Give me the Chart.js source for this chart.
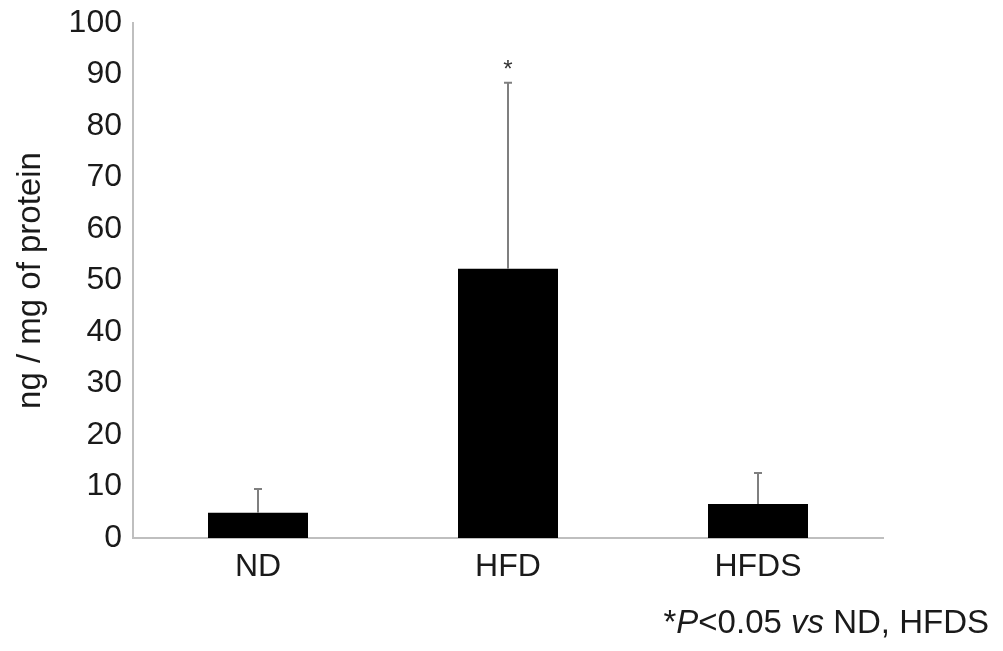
<!DOCTYPE html>
<html>
<head>
<meta charset="utf-8">
<script src="https://cdn.jsdelivr.net/npm/chart.js@4"></script>
<style>
  html, body { margin: 0; padding: 0; background: #fff; }
  #wrap { width: 1003px; height: 651px; position: relative; }
</style>
</head>
<body>
<div id="wrap"><canvas id="chart"></canvas></div>
<script>
// data
const groups = ['ND', 'HFD', 'HFDS'];
const means = [4.9, 52.3, 6.6];
const errUpper = [9.5, 88.4, 12.6];
const marks = ['', '*', ''];
const yTicks = [0, 10, 20, 30, 40, 50, 60, 70, 80, 90, 100];

const FONT = "'Liberation Sans', Arial, sans-serif";

// upper error bars + significance star
const errorBars = {
    id: 'errorBars',
    afterDatasetsDraw(chart) {
        const ctx = chart.ctx;
        const x = chart.scales.x;
        const y = chart.scales.y;
        ctx.save();
        ctx.strokeStyle = '#7f7f7f';
        ctx.lineWidth = 2;
        groups.forEach((g, i) => {
            const cx = x.getPixelForValue(i);
            const top = y.getPixelForValue(errUpper[i]);
            const base = y.getPixelForValue(means[i]);
            ctx.beginPath();
            ctx.moveTo(cx, base);
            ctx.lineTo(cx, top);
            ctx.moveTo(cx - 4, top);
            ctx.lineTo(cx + 4, top);
            ctx.stroke();
            if (marks[i]) {
                ctx.fillStyle = '#333';
                ctx.font = '24px ' + FONT;
                ctx.textAlign = 'center';
                ctx.textBaseline = 'alphabetic';
                ctx.fillText(marks[i], cx, top - 6);
            }
        });
        ctx.restore();
    }
};

// footnote at bottom right
const footnote = {
    id: 'footnote',
    afterDraw(chart) {
        const ctx = chart.ctx;
        const parts = [
            ['*', false], ['P', true], ['<0.05 ', false], ['vs', true], [' ND, HFDS', false]
        ];
        ctx.save();
        ctx.fillStyle = '#1a1a1a';
        ctx.textBaseline = 'alphabetic';
        let w = 0;
        parts.forEach(p => {
            ctx.font = (p[1] ? 'italic ' : '') + '33px ' + FONT;
            w += ctx.measureText(p[0]).width;
        });
        let xPos = 989 - w;
        parts.forEach(p => {
            ctx.font = (p[1] ? 'italic ' : '') + '33px ' + FONT;
            ctx.fillText(p[0], xPos, 633);
            xPos += ctx.measureText(p[0]).width;
        });
        ctx.restore();
    }
};

new Chart(document.getElementById('chart'), {
    type: 'bar',
    data: {
        labels: groups,
        datasets: [{
            data: means,
            backgroundColor: '#000',
            borderWidth: 0,
            categoryPercentage: 1,
            barPercentage: 0.4
        }]
    },
    options: {
        responsive: true,
        maintainAspectRatio: false,
        animation: false,
        layout: { padding: { left: 0, right: 120, top: 23, bottom: 0 } },
        plugins: { legend: { display: false }, tooltip: { enabled: false } },
        scales: {
            y: {
                min: 0,
                max: 100,
                afterBuildTicks(scale) { scale.ticks = yTicks.map(v => ({ value: v })); },
                afterFit(scale) {
                    scale.width = 133;
                    scale.paddingTop = 0;
                    scale.paddingBottom = 0;
                },
                grid: { display: false, drawTicks: false },
                border: { display: true, color: '#bfbfbf', width: 2 },
                ticks: { color: '#1a1a1a', padding: 11, font: { family: FONT, size: 32 } },
                title: {
                    display: true,
                    text: 'ng / mg of protein',
                    color: '#1a1a1a',
                    font: { family: FONT, size: 33 },
                    padding: { top: 11, bottom: 0 }
                }
            },
            x: {
                afterFit(scale) {
                    scale.height = 113;
                    scale.paddingLeft = 0;
                    scale.paddingRight = 0;
                },
                grid: { display: false, drawTicks: false },
                border: { display: true, color: '#bfbfbf', width: 2 },
                ticks: { color: '#1a1a1a', padding: 10, font: { family: FONT, size: 32 } }
            }
        }
    },
    plugins: [errorBars, footnote]
});
</script>
</body>
</html>
